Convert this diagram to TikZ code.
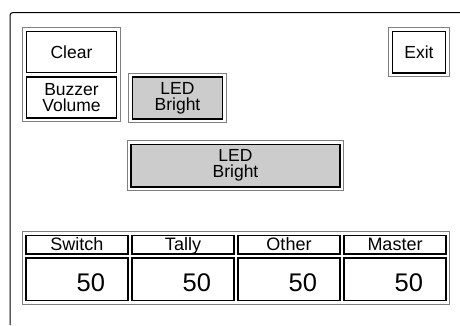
\documentclass[tikz,border=0pt]{standalone}
\usepackage{fontspec}
\setmainfont{Liberation Sans}
\usepackage{tikz}
\usetikzlibrary{positioning}

\tikzset{
  key/.style={draw, line width=1.5pt, minimum width=90pt, minimum height=41pt, inner sep=0pt, align=center, font=\fontsize{17.5}{16}\selectfont},
  lit/.style={key, fill=black!20},
  bezel/.style={draw=black!50, line width=1pt},
  head/.style={draw, line width=1.5pt, minimum width=102pt, minimum height=18.5pt, inner sep=0pt, text height=12pt, text depth=1pt, font=\fontsize{18}{15}\selectfont},
  val/.style={draw, line width=1.5pt, minimum height=42.5pt, inner ysep=0pt, inner xsep=23pt, text width=56pt, align=right, text height=24pt, text depth=0pt, font=\fontsize{25.5}{28}\selectfont}
}

\begin{document}
\begin{tikzpicture}[x=1pt, y=-1pt]
      \useasboundingbox (0,0) rectangle (460,325);
      %% panel edge
      \draw[line width=1pt, rounded corners=3pt] (10,325) |- (460,12.5);

      \node (clear) at (71.5,51.75) [key] {Clear};
      \node (buzzer) at (71.5,97.5) [key] {Buzzer\\Volume};
      \node (ledsmall) at (177.5,98) [lit, minimum height=42pt] {LED\\Bright};
      \node (exit) at (419,52.25) [key, minimum width=53pt, minimum height=41.5pt] {Exit};
      \node (ledbig) at (235.5,165.75) [lit, minimum width=209pt, minimum height=42.5pt] {LED\\Bright};

      \node (switch) at (77,244.75) [head] {Switch};
      \node (tally) at (183,244.75) [head] {Tally};
      \node (other) at (289,244.75) [head] {Other};
      \node (master) at (395,244.75) [head] {Master};

      \node (switchval) at (77,279.25) [val] {50};
      \node (tallyval) at (183,279.25) [val] {50};
      \node (otherval) at (289,279.25) [val] {50};
      \node (masterval) at (395,279.25) [val] {50};

      %% grey bezels
      \draw[bezel] ([shift={(-3pt,3pt)}]clear.north west) rectangle ([shift={(3pt,-3pt)}]buzzer.south east);
      \draw[bezel] ([shift={(-3pt,3pt)}]ledsmall.north west) rectangle ([shift={(3pt,-3pt)}]ledsmall.south east);
      \draw[bezel] ([shift={(-3pt,3pt)}]exit.north west) rectangle ([shift={(3pt,-3pt)}]exit.south east);
      \draw[bezel] ([shift={(-3pt,3pt)}]ledbig.north west) rectangle ([shift={(3pt,-3pt)}]ledbig.south east);
      \draw[bezel] ([shift={(-3pt,3pt)}]switch.north west) rectangle ([shift={(3pt,-3pt)}]masterval.south east);
\end{tikzpicture}
\end{document}
